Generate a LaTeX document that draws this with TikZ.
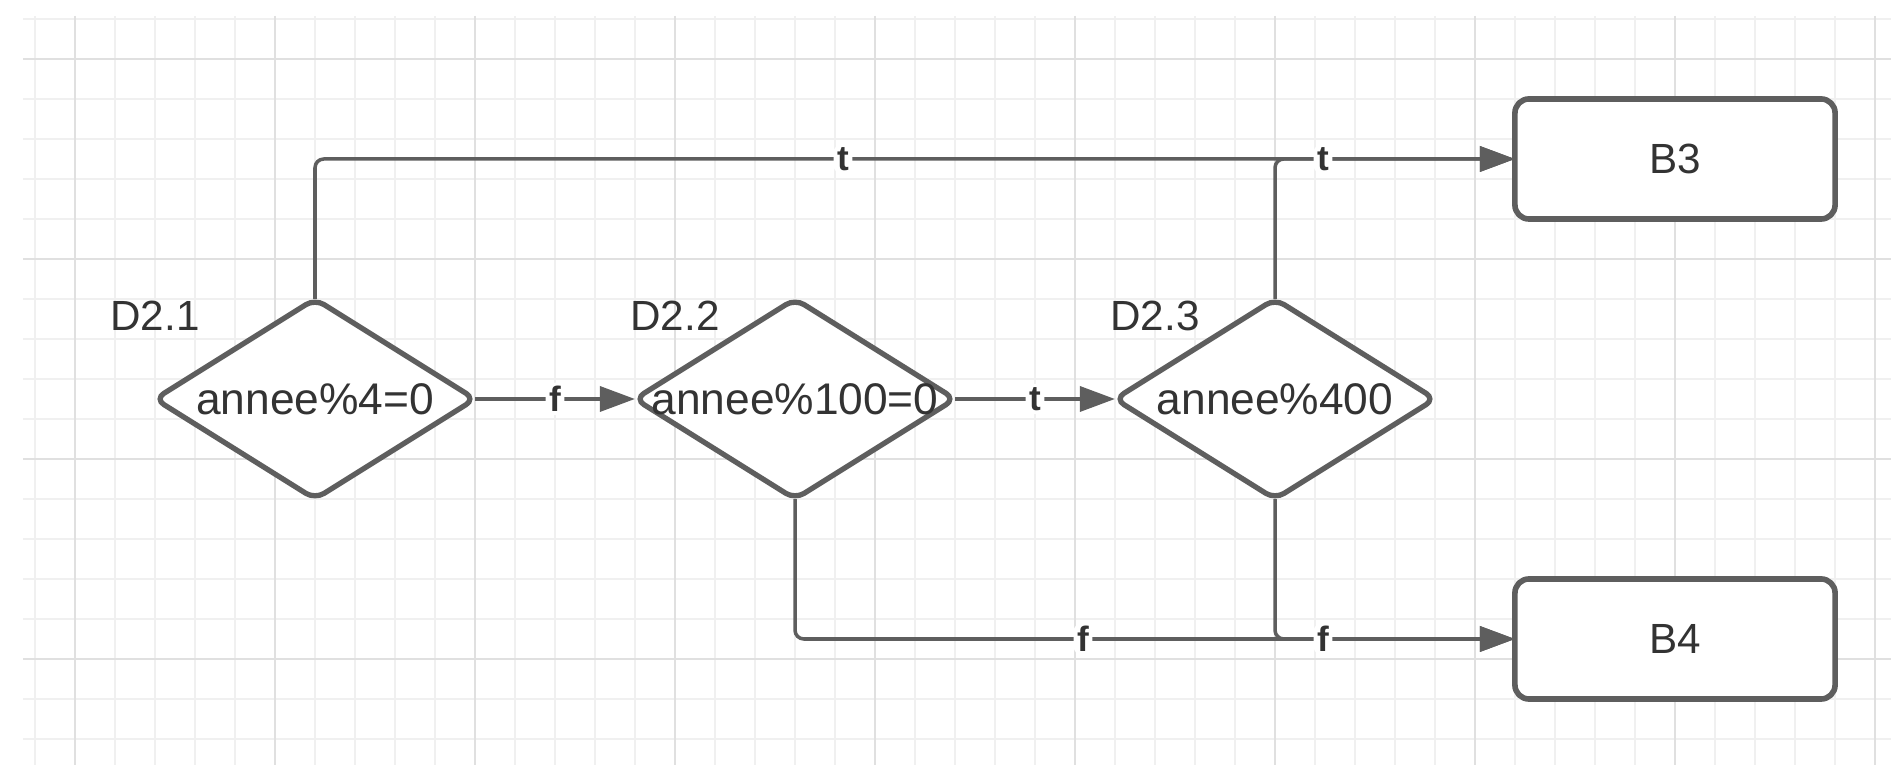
\documentclass[tikz,border=0pt]{standalone}
\usepackage{fontspec}
\setmainfont{Liberation Sans}
\usetikzlibrary{positioning,shapes.geometric,arrows.meta}

\definecolor{linegray}{RGB}{94,94,94}
\definecolor{textgray}{RGB}{51,51,51}
\definecolor{gridminor}{RGB}{240,240,240}
\definecolor{gridmajor}{RGB}{224,224,224}

\tikzset{
  decision/.style={diamond, draw=linegray, line width=1.5pt, fill=white, rounded corners=3pt,
    minimum width=3.2cm, minimum height=2cm, inner sep=0pt, outer sep=0pt, text=textgray,
    font=\fontsize{12.6}{14}\selectfont},
  block/.style={rectangle, draw=linegray, line width=1.6pt, fill=white, rounded corners=4pt,
    minimum width=3.2cm, minimum height=1.2cm, outer sep=0pt, text=textgray,
    font=\fontsize{12}{14}\selectfont},
  tag/.style={text=textgray, inner sep=0pt, font=\fontsize{12}{14}\selectfont},
  link/.style={draw=linegray, line width=1pt, rounded corners=2.5pt,
    -{Triangle[length=3.5mm,width=2.5mm]}},
  cond/.style={fill=white, inner sep=1pt, text=textgray, font=\fontsize{10}{12}\selectfont\bfseries},
}

\begin{document}
\begin{tikzpicture}[x=0.01cm, y=-0.01cm]
        \useasboundingbox (0,0) rectangle (1891,765);
        % grid
        \foreach \x in {35,75,...,1875} \draw [gridminor, line width=0.4pt] (\x,16) -- (\x,765);
        \foreach \y in {19,59,...,739} \draw [gridminor, line width=0.4pt] (23,\y) -- (1891,\y);
        \foreach \x in {75,275,...,1875} \draw [gridmajor, line width=0.4pt] (\x,16) -- (\x,765);
        \foreach \y in {59,259,...,659} \draw [gridmajor, line width=0.4pt] (23,\y) -- (1891,\y);

        \node [decision] at (315,399) (d21) {\makebox[0pt]{annee\%4=0}};
        \node [decision] at (795,399) (d22) {\makebox[0pt]{annee\%100=0}};
        \node [decision] at (1275,399) (d23) {\makebox[0pt]{annee\%400}};
        \node [tag] at (155,316) (n21) {D2.1};
        \node [tag] at (675,316) (n22) {D2.2};
        \node [tag] at (1155,316) (n23) {D2.3};

        \node [block] at (1675,159) (b3) {B3};
        \node [block] at (1675,639) (b4) {B4};

        \draw [link] (d21.east) -- node [cond] {f} (d22.west);
        \draw [link] (d22.east) -- node [cond] {t} (d23.west);
        \draw [link] (d21.north) |- node [cond, pos=0.72] {t} (b3.west);
        \draw [link] (d23.north) |- node [cond, pos=0.6] {t} (b3.west);
        \draw [link] (d22.south) |- node [cond, pos=0.7] {f} (b4.west);
        \draw [link] (d23.south) |- node [cond, pos=0.6] {f} (b4.west);
\end{tikzpicture}
\end{document}
